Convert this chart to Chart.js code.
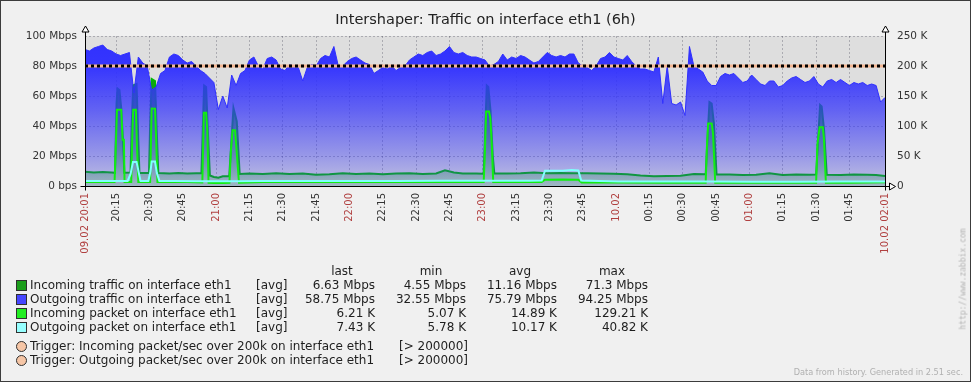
<!DOCTYPE html>
<html><head><meta charset="utf-8">
<script src="https://cdn.jsdelivr.net/npm/chart.js@4/dist/chart.umd.min.js"></script>
<style>
html,body{margin:0;padding:0;background:#f0f0f0;}
#wrap{position:relative;width:971px;height:382px;overflow:hidden;font-family:"DejaVu Sans",sans-serif;background:#f0f0f0;}
#c{position:absolute;left:0;top:0;}
.frame{position:absolute;left:0;top:0;width:969px;height:380px;border:1px solid #3c3c3c;pointer-events:none;}
.t{position:absolute;white-space:nowrap;color:#1e1e1e;font-size:12px;line-height:14px;}
.r{text-align:right;}
.c{text-align:center;}
.sq{position:absolute;width:9px;height:9px;border:1px solid #303030;}
.ci{position:absolute;width:9px;height:9px;border:1px solid #303030;border-radius:50%;background:#f6c6a6;}
#title{position:absolute;left:0;width:971px;top:10px;text-align:center;font-size:14.5px;line-height:18px;color:#222;}
#url{position:absolute;left:963px;top:279px;transform:translate(-50%,-50%) rotate(-90deg);font-family:"DejaVu Sans Mono",monospace;font-size:8px;color:#b4b4b4;white-space:nowrap;}
#gen{position:absolute;right:8px;top:367px;font-size:8.2px;color:#b0b0b0;white-space:nowrap;}
</style></head>
<body>
<div id="wrap">
<canvas id="c" width="971" height="382"></canvas>
<div id="title">Intershaper: Traffic on interface eth1 (6h)</div>
<div id="legend"></div>
<div id="url">http://www.zabbix.com</div>
<div id="gen">Data from history. Generated in 2.51 sec.</div>
<div class="frame"></div>
</div>
<script>
// ---- data (minutes after 09.02 20:01) ----
const outTrafMbps = [
91,90,92,93,94,91,90,88,87,88,89,62,86,82,80,64,66,75,77,86,
88,87,84,82,83,80,77,75,72,69,51,60,52,74,67,75,77,84,86,80,
78,85,86,84,78,77,81,80,79,70,79,81,80,85,87,86,93,80,80,83,
85,86,84,82,81,75,77,79,78,80,77,79,80,84,86,88,87,89,90,87,
88,90,93,89,88,89,87,86,86,85,84,80,81,83,88,84,86,85,87,86,
84,82,83,86,89,87,86,87,86,88,88,82,80,79,77,80,85,86,89,86,
85,84,87,83,80,78,78,77,76,86,55,80,55,54,56,47,93,80,78,76,
70,67,67,73,75,74,75,72,69,70,74,71,68,67,70,70,66,67,70,72,
73,71,69,70,73,68,66,70,71,69,71,69,67,69,68,69,67,68,67,56,59
];
const outTrafTimes = outTrafMbps.map((v, i) => i * 2);

const inTrafTimes = [
0,4,8,12,13.5,14.2,14.6,15.5,16.3,17.2,17.7,
20.5,21,21.7,23.2,24,24.5,
28.8,29.3,30,31.5,32.2,33,
38,42,46,50,
52.4,53.6,54.5,55.2,56.2,
58,60,62,
64.9,66.8,68.3,69.6,
74,80,86,92,98,104,110,116,122,128,134,140,146,152,158,162,166,170,176,
179.4,180.8,181.5,182.5,183.5,184.2,
190,196,202,208,214,220,226,232,238,244,250,256,262,268,274,
279.3,281,282,283,284.2,
290,296,302,308,314,320,326,
329,330.8,331.5,332.6,333.8,
340,346,352,356,360
];
const inTrafMbps = [
9.5,9,9.3,9,8.8,55,65,64,52,28,8.8,
9,40,67,68,30,8.7,
8.7,40,71.3,70,40,8.7,
8.3,8.6,8.3,8.5,
8.5,67,66,40,7,
6,5.5,6.5,
6.5,52,43,8,
8.3,8,8.5,8,8.3,7.5,7.8,8.5,8,8.3,7.8,8.3,8.5,8,8.3,10.5,9,8.3,8.3,
8.2,67,66,50,20,8.3,
8.3,8.5,9,8.5,8.7,8.5,8.5,8.3,8.2,7.8,7,6.5,6.7,6.8,8,
7.8,56,55,42,7.7,
7.7,7.3,7.5,8.5,7.3,7.6,7.5,
7.6,54,53,37,7.5,
7.4,7.7,7.5,7.3,6.6
];

const inPktTimes = [
0,6,12,13.3,13.8,14.4,16.3,16.9,17.5,17.8,
20.8,21.2,21.7,22.9,23.4,24,
29.3,30,31.5,32,32.6,
36,46,
52.8,53.5,54.5,55,55.6,
58,62,
65,65.6,66.4,67.5,68.2,69.3,
80,100,120,140,160,
179.4,179.9,180.5,181.8,182.4,183.1,183.7,
200,205.5,207,215,222,223.5,
240,260,
279.3,279.8,280.4,282,282.6,283.6,
300,320,
329,329.6,330.6,332,332.5,333.4,
345,360
];
const inPktK = [
6.8,6.8,6.6,6.6,60,127,127,77,77,6.6,
6.6,72,127,127,65,6.6,
6.6,129.2,129,80,6.6,
6.8,6.5,
5.8,122,122,95,5.5,
4.8,5.2,
5.5,55,93,93,60,5.5,
6.5,6.7,6.5,6.6,6.5,
6.5,50,124,124,113,65,6.5,
6.5,6.5,10.5,11,10.5,6,
5.7,5.5,
5.5,60,104,104,88,5.5,
5.3,5.5,
5.5,70,98,98,80,5.5,
5.5,6.2
];

const outPktTimes = [
0,10,19.2,20.5,21.6,23.2,24.2,25,
28.5,29.5,30,31.5,32.3,33.5,
40,50,60,70,80,100,120,140,160,180,200,
205.5,207,215,219,222,223.3,
240,260,280,300,320,340,360
];
const outPktK = [
8.2,8.3,8.5,20,40,40,22,8.5,
8.5,25,40.8,40.8,22,8.5,
8.2,8,7.8,8,8.2,8.5,8.3,8.5,8.7,8.7,8.9,
9,25.5,25.5,26.5,26,9,
7.5,7.3,7.3,7.2,7.2,7.3,7.4
];

const triggerK = 200;

const tickMinutes = [0,14,29,44,59,74,89,104,119,134,149,164,179,194,209,224,239,254,269,284,299,314,329,344,360];
const tickLabels = ['09.02 20:01','20:15','20:30','20:45','21:00','21:15','21:30','21:45','22:00','22:15','22:30','22:45','23:00','23:15','23:30','23:45','10.02','00:15','00:30','00:45','01:00','01:15','01:30','01:45','10.02 02:01'];
const tickRed = [0,4,8,12,16,20,24];
const leftTickLabels = ['0 bps','20 Mbps','40 Mbps','60 Mbps','80 Mbps','100 Mbps'];
const rightTickLabels = ['0','50 K','100 K','150 K','200 K','250 K'];

const legendRows = [
  {name:'Incoming traffic on interface eth1', color:'#1c9e1c', last:'6.63 Mbps', min:'4.55 Mbps', avg:'11.16 Mbps', max:'71.3 Mbps'},
  {name:'Outgoing traffic on interface eth1', color:'#4646ff', last:'58.75 Mbps', min:'32.55 Mbps', avg:'75.79 Mbps', max:'94.25 Mbps'},
  {name:'Incoming packet on interface eth1', color:'#22ee22', last:'6.21 K', min:'5.07 K', avg:'14.89 K', max:'129.21 K'},
  {name:'Outgoing packet on interface eth1', color:'#96ffff', last:'7.43 K', min:'5.78 K', avg:'10.17 K', max:'40.82 K'}
];
const triggerRows = [
  'Trigger: Incoming packet/sec over 200k on interface eth1',
  'Trigger: Outgoing packet/sec over 200k on interface eth1'
];

// ---- legend (HTML) ----
(function(){
  const L = document.getElementById('legend');
  let h = '';
  const hdr = [['last',342],['min',431],['avg',520],['max',612]];
  hdr.forEach(([t,x]) => { h += `<div class="t c" style="left:${x-40}px;width:80px;top:264px">${t}</div>`; });
  const cols = [375,466,557,648];
  legendRows.forEach((r,i) => {
    const y = 285 + i*14;
    h += `<div class="sq" style="left:16px;top:${y-5}px;background:${r.color}"></div>`;
    h += `<div class="t" style="left:30px;top:${y-7}px">${r.name}</div>`;
    h += `<div class="t" style="left:256px;top:${y-7}px">[avg]</div>`;
    [r.last,r.min,r.avg,r.max].forEach((v,j) => {
      h += `<div class="t r" style="left:${cols[j]-100}px;width:100px;top:${y-7}px">${v}</div>`;
    });
  });
  triggerRows.forEach((t,i) => {
    const y = 346 + i*14;
    h += `<div class="ci" style="left:16px;top:${y-5}px"></div>`;
    h += `<div class="t" style="left:30px;top:${y-7}px">${t}</div>`;
    h += `<div class="t" style="left:399px;top:${y-7}px">[&gt; 200000]</div>`;
  });
  L.innerHTML = h;
})();

// ---- chart ----
const xy = (ts, vs) => vs.map((v, i) => ({x: ts[i], y: v}));

function blueFill(c){
  const a = c.chart.chartArea; if (!a) return 'rgba(51,51,255,0.8)';
  const g = c.chart.ctx.createLinearGradient(0, a.top, 0, a.bottom);
  g.addColorStop(0, 'rgba(48,48,255,1)');
  g.addColorStop(0.2, 'rgba(48,48,255,0.97)');
  g.addColorStop(0.5, 'rgba(52,52,250,0.72)');
  g.addColorStop(0.8, 'rgba(56,56,245,0.42)');
  g.addColorStop(1, 'rgba(60,60,240,0.18)');
  return g;
}
function greenFill(c){
  const a = c.chart.chartArea; if (!a) return 'rgb(120,170,120)';
  const g = c.chart.ctx.createLinearGradient(0, a.top, 0, a.bottom);
  g.addColorStop(0, 'rgb(22,130,22)');
  g.addColorStop(0.35, 'rgb(30,150,34)');
  g.addColorStop(1, 'rgb(182,210,186)');
  return g;
}

const deco = {
  id: 'deco',
  beforeDraw(chart){
    const {ctx, chartArea: a} = chart;
    ctx.save();
    ctx.fillStyle = '#dedede';
    ctx.fillRect(a.left, a.top, a.right - a.left, a.bottom - a.top);
    ctx.restore();
  },
  afterDraw(chart){
    const {ctx, chartArea: a} = chart;
    ctx.save();
    ctx.strokeStyle = '#000'; ctx.lineWidth = 1; ctx.fillStyle = '#fff';
    const L = Math.round(a.left) + 0.5, R = Math.round(a.right) + 0.5, B = Math.round(a.bottom) + 0.5;
    ctx.beginPath();
    ctx.moveTo(L, 32); ctx.lineTo(L, B + 4);
    ctx.moveTo(R, 32); ctx.lineTo(R, B + 4);
    ctx.moveTo(L - 5, B); ctx.lineTo(R + 4, B);
    ctx.stroke();
    [L, R].forEach(x => {
      ctx.beginPath(); ctx.moveTo(x, 26); ctx.lineTo(x + 3.5, 32); ctx.lineTo(x - 3.5, 32); ctx.closePath();
      ctx.fill(); ctx.stroke();
    });
    ctx.beginPath(); ctx.moveTo(R + 10, B); ctx.lineTo(R + 4, B - 3.5); ctx.lineTo(R + 4, B + 3.5); ctx.closePath();
    ctx.fill(); ctx.stroke();
    ctx.restore();
  }
};

const gridDash = {color: 'rgba(40,40,60,0.28)', lineWidth: 1, drawTicks: false};

new Chart(document.getElementById('c'), {
  type: 'line',
  data: {
    datasets: [
      {label: 'Outgoing traffic', data: xy(outTrafTimes, outTrafMbps), yAxisID: 'y', fill: 'origin',
       backgroundColor: blueFill, borderColor: 'rgba(48,48,255,1)', borderWidth: 1, order: 5},
      {label: 'Incoming traffic', data: xy(inTrafTimes, inTrafMbps), yAxisID: 'y', fill: 'origin',
       backgroundColor: greenFill, borderColor: '#00b800', borderWidth: 2, order: 6},
      {label: 'Incoming packet', data: xy(inPktTimes, inPktK), yAxisID: 'y1', fill: false,
       borderColor: '#11ee11', borderWidth: 2, order: 3},
      {label: 'Outgoing packet', data: xy(outPktTimes, outPktK), yAxisID: 'y1', fill: false,
       borderColor: '#80ffff', borderWidth: 2, order: 2},
      {label: 'Trigger', data: [{x: 0, y: triggerK}, {x: 360, y: triggerK}], yAxisID: 'y1', fill: false,
       borderColor: '#f5b792', borderWidth: 3, order: 1},
      {label: 'Trigger dash', data: [{x: 0, y: triggerK}, {x: 360, y: triggerK}], yAxisID: 'y1', fill: false,
       borderColor: '#000', borderWidth: 3, borderDash: [3, 3], order: 0}
    ]
  },
  options: {
    responsive: false, animation: false, devicePixelRatio: 1,
    layout: {autoPadding: false, padding: {top: 36, left: 0, right: 0, bottom: 0}},
    elements: {point: {radius: 0}, line: {tension: 0}},
    plugins: {legend: {display: false}, tooltip: {enabled: false}, title: {display: false}},
    scales: {
      x: {
        type: 'linear', min: 0, max: 360, z: 1,
        afterBuildTicks: s => { s.ticks = tickMinutes.map(v => ({value: v})); },
        afterFit: s => { s.height = 196; s.paddingLeft = 0; s.paddingRight = 0; },
        grid: {...gridDash},
        border: {display: false, dash: [2, 2]},
        ticks: {
          autoSkip: false, minRotation: 90, maxRotation: 90, padding: 7,
          font: {family: 'DejaVu Sans', size: 10},
          color: c => tickRed.includes(c.index) ? '#b04040' : '#333',
          callback: (v, i) => tickLabels[i]
        }
      },
      y: {
        position: 'left', min: 0, max: 100, z: 1,
        afterFit: s => { s.width = 85; s.paddingTop = 0; s.paddingBottom = 0; },
        grid: {...gridDash},
        border: {display: false, dash: [2, 2]},
        ticks: {
          stepSize: 10, padding: 8, font: {family: 'DejaVu Sans', size: 10.5}, color: '#333',
          callback: v => (v % 20 === 0 ? leftTickLabels[v / 20] : '')
        }
      },
      y1: {
        position: 'right', min: 0, max: 250, z: 1,
        afterFit: s => { s.width = 86; s.paddingTop = 0; s.paddingBottom = 0; },
        grid: {display: false, drawTicks: false},
        border: {display: false},
        ticks: {
          stepSize: 50, padding: 12, font: {family: 'DejaVu Sans', size: 10.5}, color: '#333',
          callback: v => rightTickLabels[v / 50]
        }
      }
    }
  },
  plugins: [deco]
});
</script>
</body></html>
